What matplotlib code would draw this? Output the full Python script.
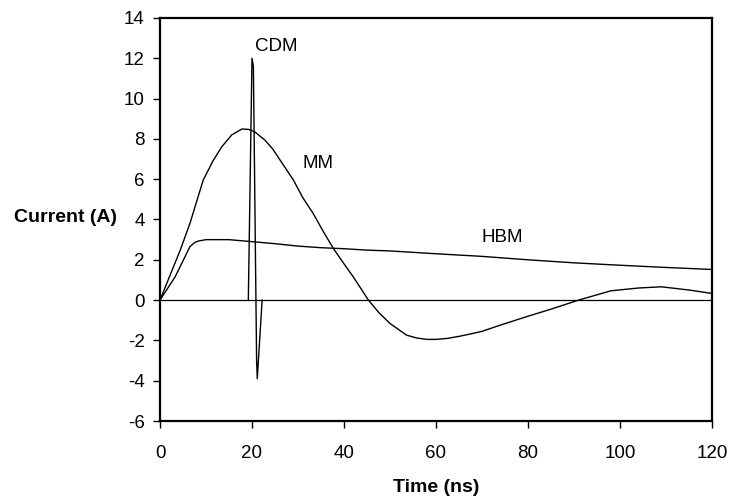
import matplotlib
matplotlib.use("Agg")
import matplotlib.pyplot as plt

plt.rcParams['font.family'] = ['Liberation Sans', 'DejaVu Sans']
plt.rcParams['axes.unicode_minus'] = False

# HBM waveform
hbm_t = [0, 3.3, 5.0, 6.5, 7.5, 8.3, 10, 15, 20, 25, 30, 35, 40, 45, 50, 60, 70, 80, 90, 100, 110, 120]
hbm_i = [0, 1.16, 1.95, 2.65, 2.85, 2.93, 3.0, 3.0, 2.9, 2.8, 2.68, 2.6, 2.55, 2.48, 2.44, 2.3, 2.17, 2.0, 1.85, 1.73, 1.62, 1.52]

# MM waveform
mm_t = [0, 4.4, 6.5, 9.4, 11.5, 13.4, 15.6, 17.8, 19.3, 20.6, 22.8, 24.5, 26.1, 29, 31, 33.3, 35.5, 37.7, 40,
        42, 45.3, 47.5, 50, 53.6, 55.8, 58, 60, 62.5, 65, 67.5, 70, 74, 80, 85, 91, 98, 104, 109, 115, 120]
mm_i = [0, 2.48, 3.8, 5.96, 6.9, 7.6, 8.2, 8.49, 8.47, 8.35, 7.94, 7.5, 6.95, 5.96, 5.1, 4.3, 3.4, 2.56, 1.8,
        1.16, 0, -0.6, -1.16, -1.74, -1.88, -1.95, -1.95, -1.9, -1.8, -1.68, -1.55, -1.24, -0.8, -0.45, 0,
        0.46, 0.6, 0.66, 0.5, 0.33]

# CDM waveform
cdm_t = [19.2, 20.0, 20.3, 21.0, 21.15, 22.2]
cdm_i = [0, 12.0, 11.6, -3.0, -3.9, 0]

labels = ["CDM", "MM", "HBM"]
label_t = [25.2, 34.4, 74.5]
label_i = [12.6, 6.8, 3.1]

x_ticks = [0, 20, 40, 60, 80, 100, 120]
y_ticks = [-6, -4, -2, 0, 2, 4, 6, 8, 10, 12, 14]

fig = plt.figure(figsize=(7.32, 5.0), dpi=100)
ax = fig.add_axes([160/732, 1-421/500, (712-160)/732, (421-18)/500])

ax.axhline(0, color='black', lw=0.9, zorder=1)
for t, i in [(hbm_t, hbm_i), (mm_t, mm_i), (cdm_t, cdm_i)]:
    ax.plot(t, i, color='black', lw=1.0, zorder=2)

for s, tx, ty in zip(labels, label_t, label_i):
    ax.text(tx, ty, s, ha='center', va='center', fontsize=13.5)

ax.set_xlim(0, 120)
ax.set_ylim(-6, 14)
ax.set_xticks(x_ticks)
ax.set_yticks(y_ticks)
ax.tick_params(axis='both', direction='out', length=5, width=1, labelsize=13.5)
ax.tick_params(axis='x', pad=12)
ax.tick_params(axis='y', pad=6)
for sp in ax.spines.values():
    sp.set_linewidth(1.6)

fig.text(65/732, 1-218/500, "Current (A)", ha='center', va='center', fontsize=14, fontweight='bold')
fig.text(436/732, 1-488/500, "Time (ns)", ha='center', va='center', fontsize=14, fontweight='bold')

fig.savefig("out.png", dpi=100)
